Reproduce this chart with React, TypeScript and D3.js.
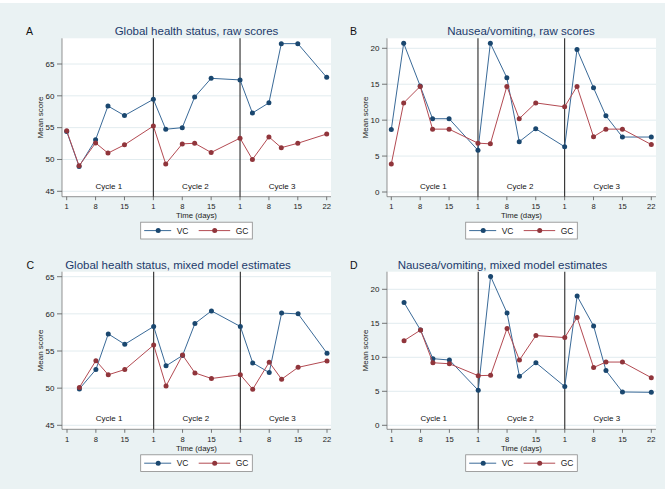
import React from 'react';
import * as d3 from 'd3';

// ---- data ----
const rawCycle = [1, 1, 1, 1, 1, 2, 2, 2, 2, 2, 3, 3, 3, 3, 3, 3];
const rawDay = [1, 4, 8, 11, 15, 1, 4, 8, 11, 15, 1, 4, 8, 11, 15, 22];
const modelCycle = [1, 1, 1, 1, 2, 2, 2, 2, 2, 3, 3, 3, 3, 3, 3];
const modelDay = [4, 8, 11, 15, 1, 4, 8, 11, 15, 1, 4, 8, 11, 15, 22];

const ghsRawVC = [54.4, 48.9, 53.1, 58.4, 56.9, 59.45, 54.75, 55.0, 59.8, 62.75, 62.5, 57.3, 58.9, 68.2, 68.2, 62.9];
const ghsRawGC = [54.5, 49.0, 52.6, 51.0, 52.3, 55.25, 49.3, 52.45, 52.55, 51.1, 53.35, 50.0, 53.55, 51.85, 52.55, 54.0];
const nvRawVC = [8.7, 20.7, 14.75, 10.2, 10.2, 5.8, 20.7, 15.9, 7.0, 8.8, 6.3, 19.85, 14.5, 10.6, 7.65, 7.65];
const nvRawGC = [3.9, 12.4, 14.7, 8.75, 8.75, 6.8, 6.7, 14.7, 10.2, 12.4, 11.85, 14.7, 7.7, 8.75, 8.75, 6.6];
const ghsModelVC = [49.9, 52.5, 57.3, 55.9, 58.3, 53.0, 54.4, 58.7, 60.4, 58.3, 53.4, 52.1, 60.1, 60.0, 54.7];
const ghsModelGC = [50.1, 53.7, 51.8, 52.5, 55.8, 50.3, 54.45, 52.05, 51.3, 51.8, 49.85, 53.5, 51.2, 52.8, 53.65];
const nvModelVC = [18.05, 14.0, 9.8, 9.6, 5.15, 21.9, 16.5, 7.2, 9.2, 5.7, 19.0, 14.6, 8.05, 4.9, 4.85];
const nvModelGC = [12.45, 14.0, 9.2, 9.05, 7.3, 7.35, 14.25, 9.6, 13.2, 12.9, 15.85, 8.5, 9.3, 9.3, 7.0];

const tickCycle = [1, 1, 1, 2, 2, 2, 3, 3, 3, 3];
const tickDay = [1, 8, 15, 1, 8, 15, 1, 8, 15, 22];
const cycleLabels = ['Cycle 1', 'Cycle 2', 'Cycle 3'];
const ghsTicks = [45, 50, 55, 60, 65];
const nvTicks = [0, 5, 10, 15, 20];
const seriesNames = ['VC', 'GC'];
const panelLetters = ['A', 'B', 'C', 'D'];
const panelTitles = [
  'Global health status, raw scores',
  'Nausea/vomiting, raw scores',
  'Global health status, mixed model estimates',
  'Nausea/vomiting, mixed model estimates',
];

const CYCLE_LEN = 21;
const toT = (c: number, d: number) => (c - 1) * CYCLE_LEN + (d - 1);

const FONT = "'Liberation Sans', Arial, sans-serif";
const BG = '#eaf2f3';
const NAVY = '#1a476f';
const NAVY_LINE = '#3a6a98';
const MAROON = '#90353b';
const MAROON_LINE = '#b34a52';
const TITLE = '#1c3a6b';

type PanelDef = {
  letter: string;
  title: string;
  left: number; right: number; top: number; bottom: number;
  xr: [number, number];
  yDom: [number, number]; yRng: [number, number];
  ticks: number[];
  cycles: number[]; days: number[];
  vc: number[]; gc: number[];
  titleX: number; titleY: number; letterX: number;
};

const panels: PanelDef[] = [
  { letter: panelLetters[0], title: panelTitles[0], left: 62, right: 331, top: 38.3, bottom: 196.7,
    xr: [66.7, 326.7], yDom: [45, 65], yRng: [191.3, 64], ticks: ghsTicks,
    cycles: rawCycle, days: rawDay, vc: ghsRawVC, gc: ghsRawGC, titleX: 196.5, titleY: 35, letterX: 26 },
  { letter: panelLetters[1], title: panelTitles[1], left: 387, right: 656, top: 38.3, bottom: 196.7,
    xr: [391.3, 651.3], yDom: [0, 20], yRng: [192, 48.3], ticks: nvTicks,
    cycles: rawCycle, days: rawDay, vc: nvRawVC, gc: nvRawGC, titleX: 521, titleY: 35, letterX: 350 },
  { letter: panelLetters[2], title: panelTitles[2], left: 62, right: 331, top: 271.7, bottom: 429.3,
    xr: [67, 327], yDom: [45, 65], yRng: [425.3, 276.7], ticks: ghsTicks,
    cycles: modelCycle, days: modelDay, vc: ghsModelVC, gc: ghsModelGC, titleX: 178, titleY: 268.5, letterX: 26.5 },
  { letter: panelLetters[3], title: panelTitles[3], left: 387, right: 656, top: 271.7, bottom: 429.3,
    xr: [391.7, 651.3], yDom: [0, 20], yRng: [425.3, 289.3], ticks: nvTicks,
    cycles: modelCycle, days: modelDay, vc: nvModelVC, gc: nvModelGC, titleX: 502.5, titleY: 268.5, letterX: 350 },
];

function Panel({ p }: { p: PanelDef }) {
  const x = d3.scaleLinear().domain([0, toT(3, 22)]).range(p.xr);
  const y = d3.scaleLinear().domain(p.yDom).range(p.yRng);
  const pts = (vals: number[]) => vals.map((v, i) => [x(toT(p.cycles[i], p.days[i])), y(v)] as [number, number]);
  const line = d3.line<[number, number]>();
  const series = [
    { name: seriesNames[0], vals: p.vc, mk: NAVY, ln: NAVY_LINE },
    { name: seriesNames[1], vals: p.gc, mk: MAROON, ln: MAROON_LINE },
  ];
  const midX = (p.left + p.right) / 2;
  const midY = (p.top + p.bottom) / 2;
  const legX = midX - 55.8;
  const legY = p.bottom + 25.5;
  return (
    <g>
      <text x={p.letterX} y={p.titleY} fontSize={10.5} fill="#111" fontFamily={FONT}>{p.letter}</text>
      <text x={p.titleX} y={p.titleY} fontSize={11.5} fill={TITLE} textAnchor="middle" fontFamily={FONT}>{p.title}</text>
      <rect x={p.left} y={p.top} width={p.right - p.left} height={p.bottom - p.top} fill="#fff" />
      {p.ticks.map((t) => (
        <g key={'g' + t}>
          <line x1={p.left} x2={p.right} y1={y(t)} y2={y(t)} stroke="#e2ecef" strokeWidth={1} />
          <line x1={p.left - 5} x2={p.left} y1={y(t)} y2={y(t)} stroke="#555" strokeWidth={0.8} />
          <text x={p.left - 7.5} y={y(t) + 2.8} fontSize={8} textAnchor="end" fill="#222" fontFamily={FONT}>{t}</text>
        </g>
      ))}
      <line x1={p.left} x2={p.left} y1={p.top} y2={p.bottom} stroke="#666" strokeWidth={0.7} />
      <line x1={p.left} x2={p.right} y1={p.bottom} y2={p.bottom} stroke="#666" strokeWidth={0.7} />
      {tickDay.map((d, i) => {
        const xx = x(toT(tickCycle[i], d));
        return (
          <g key={'x' + i}>
            <line x1={xx} x2={xx} y1={p.bottom} y2={p.bottom + 3.5} stroke="#555" strokeWidth={0.8} />
            <text x={xx} y={p.bottom + 12.6} fontSize={7.6} textAnchor="middle" fill="#222" fontFamily={FONT}>{d}</text>
          </g>
        );
      })}
      {[2, 3].map((c) => (
        <line key={'c' + c} x1={x(toT(c, 1))} x2={x(toT(c, 1))} y1={p.top} y2={p.bottom} stroke="#2a2a2a" strokeWidth={1.1} />
      ))}
      {cycleLabels.map((lab, i) => (
        <text key={lab} x={x(i * CYCLE_LEN + 10.2)} y={p.bottom - 8} fontSize={8} textAnchor="middle" fill="#111" fontFamily={FONT}>{lab}</text>
      ))}
      {series.map((s) => (
        <g key={s.name}>
          <path d={line(pts(s.vals)) || ''} fill="none" stroke={s.ln} strokeWidth={1} />
          {pts(s.vals).map((pt, i) => (
            <circle key={i} cx={pt[0]} cy={pt[1]} r={2.5} fill={s.mk} />
          ))}
        </g>
      ))}
      <text x={midX} y={p.bottom + 21.4} fontSize={7.8} textAnchor="middle" fill="#222" fontFamily={FONT}>Time (days)</text>
      <text transform={`translate(${p.left - 19},${midY}) rotate(-90)`} fontSize={8} textAnchor="middle" fill="#222" fontFamily={FONT}>Mean score</text>
      <g transform={`translate(${legX},${legY})`}>
        <rect x={0} y={0} width={111.6} height={16.8} fill="#fff" stroke="#8a8a8a" strokeWidth={0.8} />
        <line x1={3.5} x2={30.5} y1={8.4} y2={8.4} stroke={NAVY_LINE} strokeWidth={1} />
        <circle cx={17.5} cy={8.4} r={2.5} fill={NAVY} />
        <text x={36} y={11.4} fontSize={8.5} fill="#222" fontFamily={FONT}>{seriesNames[0]}</text>
        <line x1={58} x2={89.5} y1={8.4} y2={8.4} stroke={MAROON_LINE} strokeWidth={1} />
        <circle cx={74} cy={8.4} r={2.5} fill={MAROON} />
        <text x={95} y={11.4} fontSize={8.5} fill="#222" fontFamily={FONT}>{seriesNames[1]}</text>
      </g>
    </g>
  );
}

export default function App() {
  return (
    <svg width={665} height={489} style={{ position: 'absolute', left: 0, top: 0, display: 'block' }}>
      <rect x={0} y={0} width={665} height={489} fill="#fff" />
      <rect x={0} y={3} width={665} height={486} fill={BG} />
      {panels.map((p) => <Panel key={p.letter} p={p} />)}
    </svg>
  );
}
